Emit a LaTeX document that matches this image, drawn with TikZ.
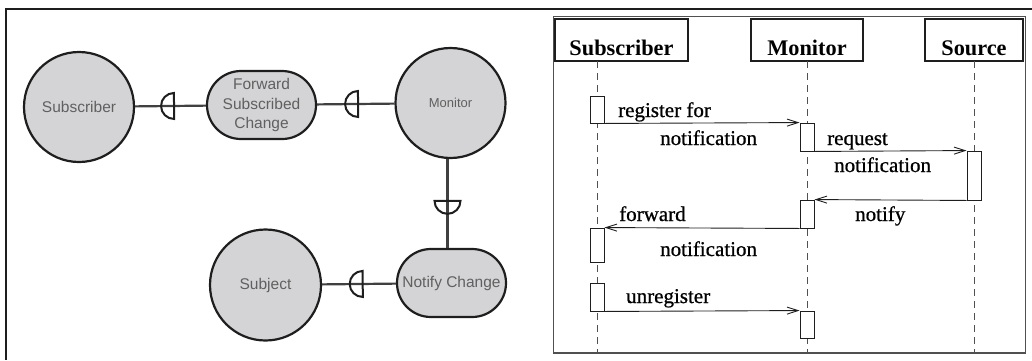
\documentclass[tikz,border=0pt]{standalone}
\usepackage{fontspec}
\setmainfont{Liberation Serif}
\newfontfamily\sansfont{Liberation Sans}
\newfontfamily\heavyserif[FakeBold=0.8]{Liberation Serif}
\usetikzlibrary{shapes.misc,arrows.meta}

\definecolor{bubble}{HTML}{D4D4D6}
\definecolor{ink}{HTML}{1E1E1E}
\definecolor{softtext}{HTML}{606060}
\definecolor{frame}{HTML}{505050}

\begin{document}
\begin{tikzpicture}[x=1pt,y=-1pt,
  comp/.style={circle, draw=ink, line width=2.2pt, fill=bubble,
    minimum size=110pt, inner sep=0pt, text=softtext,
    font=\sansfont\fontsize{15.5}{19.5}\selectfont},
  task/.style={rounded rectangle, draw=ink, line width=2.2pt, fill=bubble,
    minimum width=109pt, minimum height=68pt, inner sep=0pt, align=center,
    text=softtext, font=\sansfont\fontsize{15.5}{19.5}\selectfont},
  wire/.style={draw=ink!85, line width=2.2pt},
  socket/.pic={\draw[ink, line width=2pt]
    (0,-13) arc[start angle=270, delta angle=-180, radius=13] -- cycle;},
  onwire/.style={pos=#1, sloped, allow upside down},
  head/.style={draw=ink, line width=1.3pt, minimum height=42pt, inner sep=0pt,
    text height=30pt, text depth=0pt,
    font=\bfseries\fontsize{22.3}{26}\selectfont},
  life/.style={draw=frame, line width=0.9pt, dash pattern=on 7pt off 5pt},
  act/.style={draw=ink, fill=white, line width=0.9pt, minimum width=14pt,
    inner sep=0pt},
  msg/.style={draw=ink, line width=0.9pt,
    -{Straight Barb[length=11pt,width=7pt,line width=0.9pt]}},
  note/.style={anchor=base west, inner sep=0pt,
    font=\heavyserif\fontsize{21}{25}\selectfont}
]
\useasboundingbox (0,0) rectangle (1032,360);

% outer frame of the left panel
\draw[ink, line width=1.8pt] (1032,9) -| (6,360);

% ---------------- component view ----------------
\node[comp] (sub)  at (79,107)    {Subscriber};
\node[task] (fsc)  at (261.5,105) {Forward\\Subscribed\\Change};
\node[comp, font=\sansfont\fontsize{13}{15}\selectfont] (mon) at (450.5,103) {Monitor};
\node[task] (nc)   at (451.5,283) {Notify Change};
\node[comp, minimum size=111pt] (subj) at (265.5,285) {Subject};

\draw[wire] (sub) -- pic[onwire=0.55]{socket} (fsc);
\draw[wire] (fsc) -- pic[onwire=0.53]{socket} (mon);
\draw[wire] (subj) -- pic[onwire=0.55]{socket} (nc);
\draw[wire] ([xshift=-4pt]nc.north) -- pic[onwire=0.53]{socket}
  ([xshift=-4pt]nc.north |- mon.south);

% ---------------- sequence view ----------------
\draw[frame, line width=1.3pt] (553.5,16.5) rectangle (1025.5,353);

\node[head, minimum width=133pt] (hs)  at (621.5,40) {Subscriber};
\node[head, minimum width=112pt] (hm)  at (807,40)   {Monitor};
\node[head, minimum width=98pt]  (hso) at (974,40)   {Source};

\coordinate (lsT) at (597,61);  \coordinate (lsB) at (597,353);
\coordinate (lmT) at (807,61);  \coordinate (lmB) at (807,353);
\coordinate (loT) at (974,61);  \coordinate (loB) at (974,353);
\draw[life] (lsT) -- (lsB);
\draw[life] (lmT) -- (lmB);
\draw[life] (loT) -- (loB);

\node[act, minimum height=27pt] (sa1) at (597,109.5) {};
\node[act, minimum height=28pt] (ma1) at (807,137)   {};
\node[act, minimum height=49pt] (so1) at (974,175.5) {};
\node[act, minimum height=28pt] (ma2) at (807,214)   {};
\node[act, minimum height=34pt] (sa2) at (597,245)   {};
\node[act, minimum height=28pt] (sa3) at (597,297)   {};
\node[act, minimum height=27pt] (ma3) at (807,324.5) {};

\draw[msg] (sa1.south east) -- (ma1.north west);
\draw[msg] (ma1.south east) -- (so1.north west);
\draw[msg] (so1.south west) -- (ma2.north east);
\draw[msg] (ma2.south west) -- (sa2.north east);
\draw[msg] (sa3.south east) -- (ma3.north west);

\node[note] (t1) at (618,117) {register for};
\node[note] (t2) at (660,145) {notification};
\node[note] (t3) at (827,145) {request};
\node[note] (t4) at (834,172) {notification};
\node[note] (t5) at (855,221) {notify};
\node[note] (t6) at (619,221) {forward};
\node[note] (t7) at (660,256) {notification};
\node[note] (t8) at (626,303) {unregister};
\end{tikzpicture}
\end{document}
